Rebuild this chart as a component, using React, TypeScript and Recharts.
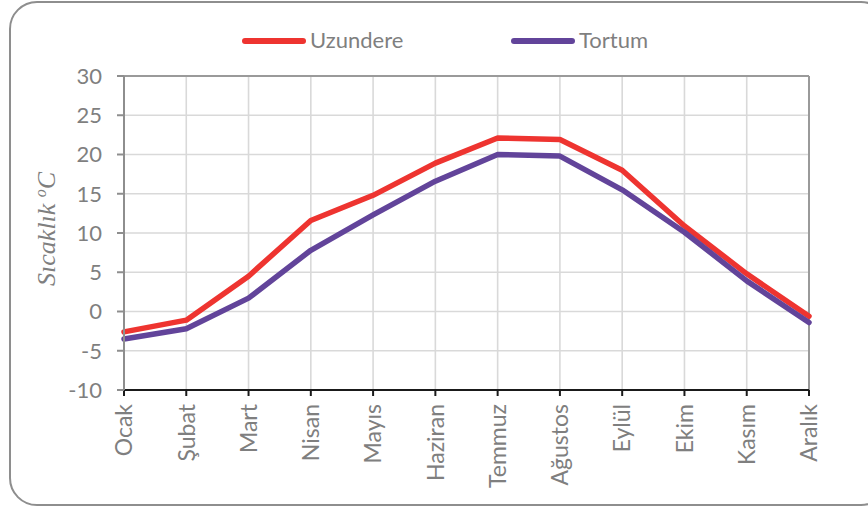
import React from "react";
import {
  LineChart,
  Line,
  XAxis,
  YAxis,
  CartesianGrid,
  Legend,
  ReferenceLine,
} from "recharts";

const months = [
  "Ocak",
  "Şubat",
  "Mart",
  "Nisan",
  "Mayıs",
  "Haziran",
  "Temmuz",
  "Ağustos",
  "Eylül",
  "Ekim",
  "Kasım",
  "Aralık",
];
const uzundere = [-2.6, -1.1, 4.5, 11.6, 14.8, 18.9, 22.1, 21.9, 18.0, 10.9, 4.8, -0.6];
const tortum = [-3.5, -2.2, 1.7, 7.8, 12.3, 16.6, 20.0, 19.8, 15.5, 10.1, 3.9, -1.4];
const yTicks = [-10, -5, 0, 5, 10, 15, 20, 25, 30];

const seriesInfo = [
  { key: "Uzundere", color: "#EE3430" },
  { key: "Tortum", color: "#62449A" },
];

const data = months.map((m, i) => ({
  month: m,
  Uzundere: uzundere[i],
  Tortum: tortum[i],
}));

const TEXT = "#7f7f7f";
const FONT = "Lato, 'Open Sans', sans-serif";

const XTick = (props: any) => {
  const { x, y, payload } = props;
  return (
    <text
      x={x}
      y={y}
      transform={`rotate(-90 ${x} ${y})`}
      textAnchor="end"
      dy="0.36em"
      fill={TEXT}
      fontSize={23}
      fontFamily={FONT}
    >
      {payload.value}
    </text>
  );
};

const YTitle = () => (
  <text
    x={46}
    y={229}
    transform="rotate(-90 46 229)"
    textAnchor="middle"
    fill={TEXT}
    fontSize={26}
    fontStyle="italic"
    fontFamily="'Liberation Serif', 'DejaVu Serif', serif"
    dy="0.35em"
  >
    Sıcaklık{" "}
    <tspan dy={-9} fontSize={16}>
      o
    </tspan>
    <tspan dy={9}>C</tspan>
  </text>
);

const LegendContent = () => {
  const pos = [
    { lx: 242, tx: 310 },
    { lx: 511, tx: 579 },
  ];
  return (
    <div style={{ position: "relative", width: 868, height: 30 }}>
      {seriesInfo.map((s, i) => (
        <React.Fragment key={s.key}>
          <div
            style={{
              position: "absolute",
              left: pos[i].lx,
              top: 14,
              width: 64,
              height: 6,
              borderRadius: 3,
              background: s.color,
            }}
          />
          <div
            style={{
              position: "absolute",
              left: pos[i].tx,
              top: 0,
              fontFamily: FONT,
              fontSize: 22,
              lineHeight: "32px",
              color: TEXT,
              whiteSpace: "nowrap",
            }}
          >
            {s.key}
          </div>
        </React.Fragment>
      ))}
    </div>
  );
};

export default function App() {
  return (
    <div
      style={{
        position: "absolute",
        left: 0,
        top: 0,
        width: 868,
        height: 508,
        overflow: "hidden",
        background: "#fff",
      }}
    >
      <div
        style={{
          position: "absolute",
          left: 9,
          top: 1,
          width: 880,
          height: 505,
          border: "2px solid #8e8e8e",
          borderRadius: 28,
          boxSizing: "border-box",
        }}
      />
      <div style={{ position: "absolute", left: 0, top: 0 }}>
        <LineChart
          width={868}
          height={508}
          data={data}
          margin={{ top: 46, right: 59, bottom: 0, left: 0 }}
        >
          <CartesianGrid stroke="#d9d9d9" strokeWidth={1.6} />
          <XAxis
            dataKey="month"
            scale="point"
            padding={{ left: 0, right: 0 }}
            height={118}
            interval={0}
            tickSize={6}
            tickMargin={8}
            axisLine={{ stroke: "#1a1a1a", strokeWidth: 2 }}
            tickLine={{ stroke: "#1a1a1a", strokeWidth: 2 }}
            tick={<XTick />}
          />
          <YAxis
            domain={[-10, 30]}
            ticks={yTicks}
            width={124}
            interval={0}
            tickSize={7}
            tickMargin={15}
            axisLine={{ stroke: "#8e8e8e", strokeWidth: 2 }}
            tickLine={{ stroke: "#8e8e8e", strokeWidth: 2 }}
            tick={{ fill: TEXT, fontSize: 22, fontFamily: FONT }}
            label={<YTitle />}
          />
          <ReferenceLine y={30} stroke="#9a9a9a" strokeWidth={2} />
          <ReferenceLine x="Aralık" stroke="#9a9a9a" strokeWidth={2} />
          <Legend
            verticalAlign="top"
            height={30}
            wrapperStyle={{ top: 24, left: 0, width: 868 }}
            content={<LegendContent />}
          />
          {seriesInfo.map((s) => (
            <Line
              key={s.key}
              type="linear"
              dataKey={s.key}
              stroke={s.color}
              strokeWidth={5.5}
              strokeLinecap="round"
              strokeLinejoin="round"
              dot={false}
              activeDot={false}
              isAnimationActive={false}
            />
          ))}
        </LineChart>
      </div>
    </div>
  );
}
